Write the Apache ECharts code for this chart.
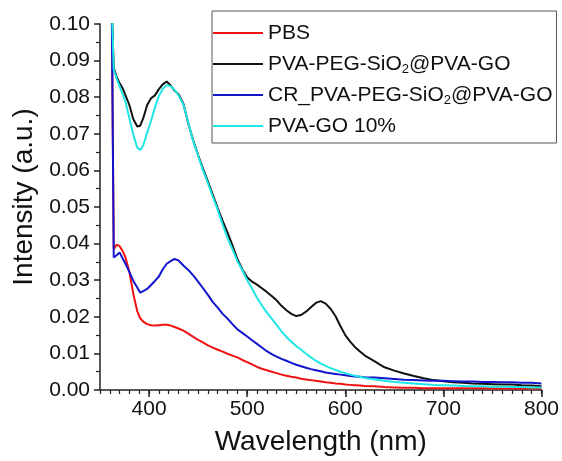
<!DOCTYPE html>
<html>
<head>
<meta charset="utf-8">
<script src="https://cdn.jsdelivr.net/npm/echarts@6/dist/echarts.min.js"></script>
<style>
  html, body { margin: 0; padding: 0; background: #fff; }
  #chart { width: 562px; height: 461px; }
</style>
</head>
<body>
<div id="chart"></div>
<script>
// wavelength (nm), shared by all spectra
const wavelengths = [
  362, 364, 367, 370, 373, 376, 380, 384, 388, 391, 394, 398, 402, 406, 410, 414, 418, 422, 426, 430,
  435, 440, 445, 450, 455, 460, 465, 470, 475, 480, 485, 490, 495, 500, 505, 510, 515, 520, 525, 530,
  535, 540, 545, 550, 555, 560, 565, 570, 575, 580, 585, 590, 595, 600, 605, 610, 615, 620,
  630, 640, 650, 660, 670, 680, 690, 700, 710, 720, 730, 740, 750, 760, 770, 780, 790, 800
];

const seriesNames = ["PBS", "PVA-PEG-SiO2@PVA-GO", "CR_PVA-PEG-SiO2@PVA-GO", "PVA-GO 10%"];

const pbs = [
  0.105, 0.0385, 0.0397, 0.0393, 0.0380, 0.0362, 0.0322, 0.0262, 0.0215, 0.0196, 0.0187, 0.0180, 0.0177, 0.0176, 0.0177, 0.0178, 0.0178, 0.0176, 0.0172, 0.0168,
  0.0162, 0.0154, 0.0145, 0.0137, 0.0130, 0.0122, 0.0116, 0.0110, 0.0105, 0.0099, 0.0094, 0.0089, 0.0082, 0.0076, 0.0070, 0.0063, 0.0058, 0.0054, 0.0050, 0.0046,
  0.0042, 0.0039, 0.0036, 0.0034, 0.0031, 0.0029, 0.0027, 0.0025, 0.0023, 0.0021, 0.0020, 0.0018, 0.0017, 0.0015, 0.0014, 0.0013, 0.0012, 0.0011,
  0.0010, 0.0008, 0.0007, 0.0006, 0.0006, 0.0005, 0.0005, 0.0005, 0.0005, 0.0005, 0.0005, 0.0005, 0.0004, 0.0004, 0.0004, 0.0004, 0.0004, 0.0004
];

const pvaPegGo = [
  0.105, 0.0880, 0.0855, 0.0838, 0.0825, 0.0805, 0.0778, 0.0740, 0.0720, 0.0722, 0.0742, 0.0778, 0.0797, 0.0805, 0.0822, 0.0835, 0.0843, 0.0832, 0.0818, 0.0808,
  0.0782, 0.0728, 0.0682, 0.0642, 0.0605, 0.0570, 0.0533, 0.0497, 0.0462, 0.0430, 0.0395, 0.0358, 0.0330, 0.0308, 0.0296, 0.0288, 0.0278, 0.0268, 0.0257, 0.0245,
  0.0230, 0.0218, 0.0208, 0.0202, 0.0205, 0.0214, 0.0226, 0.0238, 0.0243, 0.0236, 0.0222, 0.0202, 0.0175, 0.0150, 0.0132, 0.0117, 0.0105, 0.0094,
  0.0078, 0.0062, 0.0053, 0.0045, 0.0038, 0.0032, 0.0027, 0.0024, 0.0021, 0.0020, 0.0018, 0.0017, 0.0016, 0.0015, 0.0015, 0.0013, 0.0012, 0.0010
];

const crPvaPegGo = [
  0.105, 0.0362, 0.0368, 0.0376, 0.0360, 0.0345, 0.0322, 0.0298, 0.0280, 0.0266, 0.0270, 0.0276, 0.0287, 0.0298, 0.0310, 0.0330, 0.0345, 0.0352, 0.0358, 0.0354,
  0.0340, 0.0328, 0.0313, 0.0296, 0.0278, 0.0260, 0.0240, 0.0225, 0.0208, 0.0195, 0.0180, 0.0166, 0.0156, 0.0146, 0.0136, 0.0126, 0.0116, 0.0106, 0.0098, 0.0091,
  0.0085, 0.0080, 0.0074, 0.0069, 0.0065, 0.0061, 0.0057, 0.0054, 0.0051, 0.0048, 0.0046, 0.0044, 0.0042, 0.0040, 0.0038, 0.0037, 0.0036, 0.0035,
  0.0034, 0.0032, 0.0030, 0.0028, 0.0027, 0.0026, 0.0025, 0.0025, 0.0024, 0.0023, 0.0023, 0.0022, 0.0022, 0.0021, 0.0021, 0.0020, 0.0020, 0.0018
];

const pvaGo10 = [
  0.105, 0.0875, 0.0850, 0.0830, 0.0808, 0.0787, 0.0742, 0.0697, 0.0662, 0.0656, 0.0668, 0.0702, 0.0735, 0.0772, 0.0803, 0.0823, 0.0833, 0.0830, 0.0820, 0.0805,
  0.0780, 0.0730, 0.0680, 0.0640, 0.0600, 0.0565, 0.0528, 0.0492, 0.0452, 0.0415, 0.0385, 0.0352, 0.0328, 0.0300, 0.0277, 0.0252, 0.0231, 0.0212, 0.0195, 0.0178,
  0.0160, 0.0145, 0.0132, 0.0120, 0.0110, 0.0099, 0.0089, 0.0080, 0.0072, 0.0066, 0.0060, 0.0055, 0.0050, 0.0046, 0.0042, 0.0039, 0.0036, 0.0033,
  0.0029, 0.0025, 0.0022, 0.0020, 0.0018, 0.0016, 0.0014, 0.0013, 0.0012, 0.0011, 0.0010, 0.0010, 0.0009, 0.0009, 0.0008, 0.0008, 0.0007, 0.0007
];

const xMajorTicks = [400, 500, 600, 700, 800];
const colors = ["#f01212", "#111111", "#1414cc", "#1ee6e6"];

const FONT = "Liberation Sans, Arial, sans-serif";
const chart = echarts.init(document.getElementById("chart"));

const allValues = [pbs, pvaPegGo, crPvaPegGo, pvaGo10];
const series = seriesNames.map((name, k) => ({
  name: name,
  type: "line",
  xAxisIndex: 0,
  yAxisIndex: 0,
  showSymbol: false,
  symbol: "none",
  color: colors[k],
  lineStyle: { width: 2, color: colors[k] },
  data: wavelengths.map((w, i) => [w, allValues[k][i]]),
}));

const option = {
  animation: false,
  backgroundColor: "#fff",
  grid: { left: 100, top: 24, width: 444, height: 367, containLabel: false },
  legend: {
    left: 212,
    top: 11,
    orient: "vertical",
    icon: "rect",
    itemWidth: 50,
    itemHeight: 2,
    itemGap: 7,
    padding: [10, 4, 5, 1],
    borderColor: "#555",
    borderWidth: 1,
    data: seriesNames,
    formatter: (name) => name.replace("SiO2", "SiO{sub|2}"),
    textStyle: {
      fontFamily: FONT,
      fontSize: 21,
      color: "#111",
      lineHeight: 24,
      rich: {
        sub: { fontFamily: FONT, fontSize: 13, color: "#111", lineHeight: 24, verticalAlign: "bottom", padding: [10, 0, 0, 0] },
      },
    },
  },
  xAxis: [
    {
      type: "value",
      min: 350,
      max: 800,
      interval: 10,
      name: "Wavelength (nm)",
      nameLocation: "middle",
      nameGap: 38,
      nameTextStyle: { fontFamily: FONT, fontSize: 28, color: "#111" },
      axisLine: { show: true, onZero: false, lineStyle: { color: "#222", width: 1.5 } },
      axisTick: { show: true, inside: false, length: 7, customValues: xMajorTicks, lineStyle: { color: "#222", width: 1.5 } },
      axisLabel: { customValues: xMajorTicks, margin: 9, fontFamily: FONT, fontSize: 21, color: "#111" },
      splitLine: { show: false },
    },
    {
      type: "value",
      min: 350,
      max: 800,
      interval: 10,
      position: "bottom",
      axisLine: { show: false },
      axisTick: { show: true, inside: false, length: 4, lineStyle: { color: "#222", width: 1.2 } },
      axisLabel: { show: false },
      splitLine: { show: false },
    },
  ],
  yAxis: {
    type: "value",
    min: 0,
    max: 0.1,
    interval: 0.01,
    name: "Intensity (a.u.)",
    nameLocation: "middle",
    nameRotate: 90,
    nameGap: 57,
    nameTextStyle: { fontFamily: FONT, fontSize: 28, color: "#111", padding: [0, 0, 0, 20] },
    axisLine: { show: true, lineStyle: { color: "#222", width: 1.5 } },
    axisTick: { show: true, inside: false, length: 6, lineStyle: { color: "#222", width: 1.5 } },
    minorTick: { show: true, splitNumber: 2, length: 4, lineStyle: { color: "#222", width: 1.2 } },
    axisLabel: { margin: 10, fontFamily: FONT, fontSize: 21, color: "#111", formatter: (v) => v.toFixed(2) },
    splitLine: { show: false },
  },
  series: series,
};

chart.setOption(option);
</script>
</body>
</html>
